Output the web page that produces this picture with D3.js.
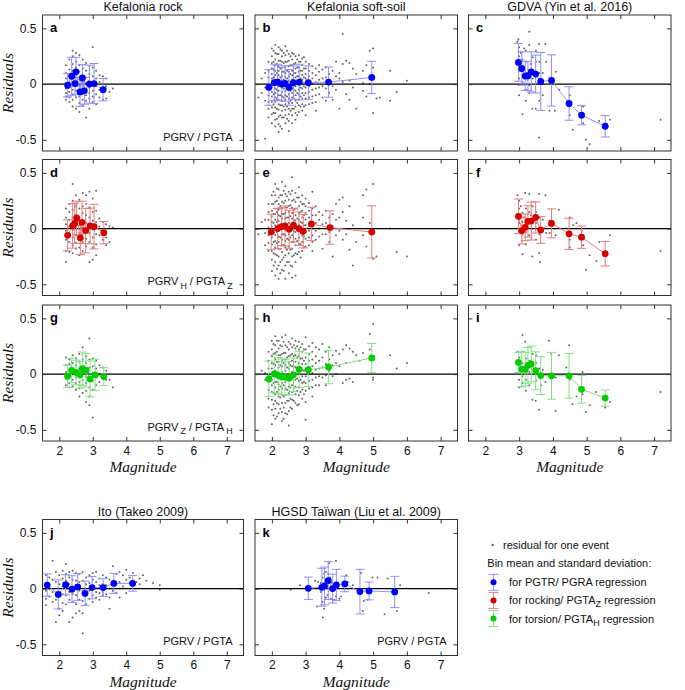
<!DOCTYPE html>
<html><head><meta charset="utf-8">
<script src="https://cdn.jsdelivr.net/npm/d3@7"></script>
<style>body{margin:0;background:#fff}svg{display:block}</style>
</head><body><svg id="chart" width="685" height="690"></svg>
<script>
// ---------- data ----------
const magnitudeTicks = [2, 3, 4, 5, 6, 7];
const residualTicks = [-0.5, 0, 0.5];
const columnTitles = ["Kefalonia rock", "Kefalonia soft-soil", "GDVA (Yin et al. 2016)"];
const bottomTitles = ["Ito (Takeo 2009)", "HGSD Taïwan (Liu et al. 2009)"];

// scatter: [magnitude, [residuals...]]
const scatterA = [[2.2,[.17,.1,.05,-.04,-.08,-.11,-.14]],[2.3,[.22,.13,.08,.02,-.03,-.07,-.12,-.16]],[2.4,[.3,.25,.18,.12,.06,0,-.05,-.09,-.14,-.2]],[2.5,[.28,.2,.15,.09,.03,-.02,-.06,-.12,-.22]],[2.6,[.26,.17,.11,.04,-.01,-.06,-.11,-.17,-.25]],[2.7,[.22,.14,.08,.02,-.04,-.09,-.14,-.19]],[2.8,[.19,.12,.06,.01,-.05,-.1,-.15,-.3]],[2.9,[.16,.09,.03,-.03,-.08,-.13,-.22]],[3.0,[.33,.15,.07,.01,-.06,-.11,-.16]],[3.1,[.12,.05,-.02,-.09,-.18]],[3.2,[.08,.02,-.05,-.12]],[3.3,[.07,0,-.06,-.14]],[3.4,[.05,-.02,-.13]],[3.5,[-.07]],[3.6,[-.04]]];
const scatterB = [[1.6,[-.12]],[1.7,[.05,-.08]],[1.8,[.1,-.03,-.15,-.49]],[1.9,[.2,.12,.06,0,-.05,-.1,-.16,-.22,-.3]],[2.0,[.32,.25,.19,.14,.09,.05,.01,-.03,-.07,-.11,-.16,-.21,-.27,-.35]],[2.05,[.3,.2,.13,.06,-.01,-.09,-.18,-.26]],[2.1,[.35,.28,.22,.17,.12,.08,.04,0,-.04,-.08,-.12,-.16,-.21,-.26,-.32,-.38]],[2.15,[.27,.18,.1,.03,-.05,-.13,-.22,-.31]],[2.2,[.33,.27,.21,.16,.12,.08,.04,.01,-.02,-.06,-.1,-.14,-.18,-.23,-.29,-.36,-.43]],[2.25,[.31,.21,.14,.06,-.02,-.1,-.19,-.28,-.38]],[2.3,[.3,.25,.2,.15,.11,.07,.03,0,-.03,-.07,-.11,-.15,-.19,-.24,-.3,-.4]],[2.35,[.28,.19,.11,.04,-.04,-.12,-.2,-.3]],[2.4,[.34,.26,.2,.15,.1,.06,.02,-.02,-.06,-.1,-.14,-.18,-.23,-.28,-.35]],[2.45,[.3,.2,.12,.05,-.03,-.11,-.2,-.31]],[2.5,[.27,.21,.16,.11,.07,.03,-.01,-.05,-.09,-.13,-.17,-.22,-.27,-.33,-.42]],[2.55,[.25,.17,.09,.02,-.06,-.15,-.24]],[2.6,[.28,.22,.17,.12,.08,.04,0,-.04,-.08,-.12,-.17,-.22,-.28,-.35]],[2.65,[.27,.18,.1,.03,-.05,-.13,-.22]],[2.7,[.25,.19,.14,.1,.06,.02,-.02,-.06,-.1,-.15,-.2,-.26,-.32]],[2.75,[.22,.15,.07,0,-.08,-.17,-.28]],[2.8,[.26,.2,.15,.11,.07,.03,-.01,-.05,-.09,-.14,-.19,-.25]],[2.85,[.2,.12,.05,-.03,-.11,-.2]],[2.9,[.23,.17,.12,.08,.04,0,-.04,-.08,-.13,-.18,-.24]],[2.95,[.24,.14,.06,-.02,-.1,-.2]],[3.0,[.2,.14,.09,.05,.01,-.03,-.08,-.13,-.19,-.28]],[3.1,[.18,.12,.07,.02,-.02,-.07,-.12,-.18]],[3.2,[.16,.1,.05,0,-.05,-.11,-.17]],[3.3,[.14,.08,.02,-.04,-.1,-.16,-.24]],[3.4,[.17,.11,.04,-.03,-.09]],[3.5,[.13,.05,-.02,-.12]],[3.6,[.15,.06,-.04,-.15]],[3.7,[.09,.02,-.08]],[3.8,[.12,-.02,-.14]],[3.9,[.2,.07,-.05]],[4.0,[.1,.05,-.22]],[4.1,[.45,.18,.02]],[4.2,[.21,-.09]],[4.3,[.19,.03,-.14]],[4.4,[.14,-.03]],[4.5,[.09,-.22]],[4.7,[.12,.01,-.06]],[4.8,[.17,-.11]],[4.9,[.3,0]],[5.0,[.32,.15,-.26]],[5.1,[-.13]],[5.2,[-.12]],[5.5,[.12,-.15]],[5.7,[-.07]],[6.0,[.03]]];
const scatterC = [[2.95,.38],[2.98,.4],[3.0,.33],[3.0,.25],[3.0,.18],[3.0,.12],[3.0,.05],[3.0,-.1],[3.05,.28],[3.1,.22],[3.1,.15],[3.1,.02],[3.1,-.27],[3.15,.32],[3.2,.3],[3.2,.2],[3.2,.1],[3.2,-.05],[3.2,-.15],[3.25,.04],[3.3,.47],[3.3,.35],[3.3,.12],[3.3,-.01],[3.3,-.08],[3.35,.18],[3.39,-.22],[3.4,.24],[3.4,.05],[3.49,-.22],[3.5,.3],[3.5,.2],[3.5,0],[3.59,.36],[3.6,.2],[3.6,.1],[3.6,-.15],[3.59,-.48],[3.7,.1],[3.7,-.1],[3.78,.36],[3.8,.2],[3.9,.05],[3.9,-.24],[4.06,-.24],[4.09,.11],[4.19,-.05],[4.5,-.1],[4.5,-.28],[4.59,-.41],[4.9,-.2],[4.9,-.35],[4.98,-.5],[5.09,-.54],[5.37,-.33],[5.69,-.32],[7.19,-.32]];
const scatterD = [[2.2,[.18,.1,.04,-.02,-.1,-.2,-.3]],[2.3,[.22,.15,.08,.02,-.05,-.12,-.21]],[2.4,[.4,.25,.17,.1,.05,-.01,-.08,-.15,-.22]],[2.5,[.3,.2,.12,.06,0,-.06,-.13,-.18]],[2.6,[.26,.18,.1,.03,-.04,-.1,-.17,-.24]],[2.7,[.32,.2,.14,.07,.01,-.05,-.12,-.2]],[2.8,[.3,.22,.12,.05,-.02,-.09,-.16]],[2.9,[.33,.19,.1,.03,-.04,-.12,-.3]],[3.0,[.27,.15,.07,-.01,-.08,-.17,-.28]],[3.1,[.34,.16,.06,-.05,-.14,-.24]],[3.2,[.09,.02,-.06]],[3.3,[.06,-.02,-.1]],[3.4,[.04,-.08,-.15]],[3.5,[.02,-.12]],[3.6,[.01]]];
const scatterE = [[1.6,[-.05]],[1.7,[.06]],[1.8,[.08,-.04,-.15]],[1.9,[.22,.15,.08,.01,-.06,-.13,-.2]],[2.0,[.3,.22,.16,.11,.06,.02,-.03,-.08,-.14,-.2,-.28,-.38]],[2.05,[.33,.22,.13,.05,-.04,-.12,-.22,-.33]],[2.1,[.4,.3,.24,.18,.13,.08,.03,-.01,-.06,-.11,-.17,-.23,-.3,-.42]],[2.15,[.36,.25,.15,.06,-.03,-.13,-.24,-.36]],[2.2,[.35,.28,.22,.17,.12,.07,.03,-.02,-.07,-.12,-.18,-.25,-.33,-.45]],[2.25,[.3,.2,.11,.02,-.08,-.18,-.3,-.4]],[2.3,[.42,.3,.24,.18,.13,.09,.04,0,-.05,-.1,-.15,-.21,-.28,-.37]],[2.35,[.34,.23,.13,.04,-.05,-.15,-.26,-.38]],[2.4,[.38,.31,.25,.19,.14,.09,.04,-.01,-.06,-.11,-.17,-.24,-.33,-.45]],[2.45,[.29,.19,.1,.01,-.09,-.19,-.3]],[2.5,[.33,.26,.2,.15,.1,.05,0,-.05,-.1,-.16,-.22,-.3,-.4]],[2.55,[.31,.21,.11,.02,-.08,-.19,-.33]],[2.6,[.46,.34,.25,.19,.14,.09,.04,-.01,-.06,-.12,-.18,-.25,-.34,-.44]],[2.65,[.26,.17,.08,-.02,-.12,-.24]],[2.7,[.32,.24,.18,.12,.07,.02,-.03,-.09,-.15,-.22,-.3,-.42]],[2.75,[.28,.18,.09,-.01,-.11,-.23]],[2.8,[.37,.28,.2,.14,.08,.03,-.02,-.08,-.14,-.21]],[2.85,[.24,.15,.06,-.04,-.14,-.26]],[2.9,[.3,.22,.16,.1,.05,0,-.06,-.12,-.2]],[2.95,[.22,.12,.03,-.07,-.17]],[3.0,[.27,.2,.14,.08,.03,-.03,-.09,-.16]],[3.1,[.23,.16,.1,.04,-.02,-.08,-.15]],[3.2,[.33,.18,.12,.06,0,-.06,-.12,-.2]],[3.3,[.2,.12,.05,-.02,-.1]],[3.4,[.15,.08,0,-.07]],[3.5,[.12,.04,-.05,-.18]],[3.6,[.16,.05,-.05]],[3.7,[.1,-.03,-.12]],[3.8,[.13,.02,-.25]],[3.9,[.22,.08,-.06]],[4.0,[.26,.1,-.02]],[4.1,[.28,.15,-.1]],[4.2,[.07,-.05]],[4.3,[.2,-.19]],[4.4,[.03,-.33]],[4.5,[-.12]],[4.7,[.3,.1,-.06]],[4.8,[.35,-.16]],[4.9,[.05]],[5.0,[.4,-.05,-.27]],[5.1,[-.25]],[5.5,[0]],[5.7,[-.21]],[6.0,[-.25]]];
const scatterF = [[2.95,.3],[3.0,.25],[3.0,.18],[3.0,.12],[3.0,.05],[3.0,-.02],[3.0,-.15],[3.05,.2],[3.1,.14],[3.1,.06],[3.1,-.05],[3.1,-.23],[3.15,.1],[3.18,.32],[3.2,.18],[3.2,.08],[3.2,-.03],[3.2,-.14],[3.25,.04],[3.3,.31],[3.3,.15],[3.3,.05],[3.3,-.06],[3.35,.12],[3.4,.2],[3.4,0],[3.39,-.25],[3.45,.08],[3.5,.15],[3.5,.05],[3.5,-.1],[3.59,.31],[3.6,.1],[3.6,-.05],[3.59,-.22],[3.62,-.3],[3.7,.08],[3.78,.3],[3.8,-.04],[3.9,.07],[3.9,-.04],[4.08,-.06],[4.18,.17],[4.5,.1],[4.5,-.1],[4.5,-.17],[4.6,.03],[4.7,.05],[4.85,-.02],[4.9,-.15],[4.98,-.37],[5.09,-.24],[5.29,-.29],[5.38,-.12],[5.69,-.06],[7.19,-.2]];
const scatterG = [[2.2,[.15,.08,.02,-.04,-.1]],[2.3,[.13,.09,.04,-.02,-.08,-.12]],[2.4,[.17,.1,.05,0,-.05,-.11]],[2.5,[.14,.08,.03,-.03,-.08,-.14]],[2.6,[.18,.11,.05,-.01,-.07,-.13,-.2]],[2.7,[.24,.13,.07,.01,-.05,-.1,-.17]],[2.8,[.16,.1,.04,-.02,-.08,-.15,-.25]],[2.9,[.32,.13,.06,0,-.06,-.12,-.2,-.28]],[3.0,[.14,.07,.01,-.06,-.14,-.39]],[3.1,[.12,.05,-.03,-.1]],[3.2,[.08,0,-.07]],[3.3,[.06,-.03]],[3.4,[.03,-.05]],[3.5,[-.05]],[3.6,[-.12]]];
const scatterH = [[1.7,[.03]],[1.8,[.01,-.05]],[1.9,[.2,.12,.05,-.01,-.07,-.14,-.22,-.3]],[2.0,[.3,.22,.16,.1,.05,0,-.05,-.1,-.16,-.23,-.32,-.45]],[2.05,[.27,.18,.09,.01,-.08,-.17,-.27,-.37]],[2.1,[.34,.26,.19,.13,.08,.03,-.02,-.07,-.12,-.18,-.24,-.31,-.4]],[2.15,[.3,.2,.11,.02,-.07,-.16,-.26,-.38]],[2.2,[.3,.23,.17,.11,.06,.01,-.04,-.09,-.14,-.2,-.27,-.35]],[2.25,[.26,.17,.08,-.01,-.11,-.21,-.31]],[2.3,[.33,.25,.18,.12,.07,.02,-.03,-.08,-.13,-.19,-.26,-.34,-.42]],[2.35,[.29,.19,.1,0,-.1,-.2,-.3,-.4]],[2.4,[.35,.26,.19,.13,.08,.03,-.02,-.07,-.13,-.19,-.26,-.35]],[2.45,[.24,.15,.06,-.04,-.14,-.24,-.36]],[2.5,[.29,.22,.16,.1,.05,0,-.05,-.11,-.17,-.24,-.33,-.46]],[2.55,[.27,.17,.08,-.02,-.12,-.22,-.3]],[2.6,[.32,.24,.18,.12,.07,.02,-.04,-.1,-.16,-.23,-.31]],[2.65,[.26,.16,.07,-.03,-.13,-.24]],[2.7,[.3,.23,.17,.11,.06,.01,-.05,-.11,-.18,-.26]],[2.75,[.25,.15,.06,-.04,-.15,-.28]],[2.8,[.29,.22,.16,.1,.05,0,-.06,-.12,-.19,-.27]],[2.85,[.24,.14,.05,-.05,-.16]],[2.9,[.27,.2,.14,.09,.04,-.02,-.08,-.14,-.22]],[2.95,[.22,.12,.03,-.07,-.18]],[3.0,[.33,.22,.15,.09,.04,-.02,-.08,-.15,-.25,-.41]],[3.1,[.25,.18,.12,.06,0,-.06,-.13]],[3.2,[.28,.2,.13,.07,.01,-.05,-.12,-.2]],[3.3,[.24,.16,.1,.04,-.03,-.1]],[3.4,[.22,.12,.05,-.02,-.1]],[3.5,[.27,.15,.06,-.03]],[3.6,[.2,.09,-.01,-.1]],[3.7,[.24,.13,.03]],[3.8,[.17,.08,-.02]],[3.9,[.21,.1,0]],[4.0,[.18,.07]],[4.1,[.22,-.08]],[4.2,[.26,.1,-.05]],[4.3,[.23,-.04]],[4.4,[.2,-.07]],[4.5,[.17]],[4.6,[.12]],[4.7,[.19]],[4.9,[.36,.22]],[5.0,[.45,-.03,-.05]],[5.5,[.17]],[5.7,[.05]],[6.0,[.1]]];
const scatterI = [[2.95,.2],[3.0,.15],[3.0,.09],[3.0,.03],[3.0,-.05],[3.0,-.12],[3.1,.35],[3.1,.2],[3.1,.1],[3.1,-.02],[3.1,-.08],[3.18,.29],[3.2,.14],[3.2,.05],[3.2,-.05],[3.2,-.15],[3.3,.12],[3.3,.02],[3.3,-.1],[3.4,.18],[3.4,.07],[3.39,-.23],[3.49,-.24],[3.5,.17],[3.5,.1],[3.5,-.06],[3.6,.05],[3.59,-.32],[3.62,0],[3.65,-.1],[3.7,.04],[3.78,-.07],[3.88,.3],[3.95,.18],[4.08,-.03],[4.08,-.33],[4.18,.17],[4.4,.06],[4.48,.26],[4.5,-.05],[4.58,-.27],[4.7,-.2],[4.88,.02],[4.88,-.18],[4.98,-.34],[5.09,-.28],[5.28,-.16],[5.55,-.3],[5.69,-.25],[7.19,-.16]];
const scatterJ = [[1.6,[.12,.05,-.02,-.09,-.15]],[1.7,[.1,0,-.07]],[1.8,[.25,.08,-.03,-.12]],[1.9,[.15,.06,-.05,-.1,-.3]],[2.0,[.12,.04,-.06,-.18,-.24]],[2.1,[.16,.09,.02,-.05,-.13,-.2]],[2.2,[.22,.13,.07,.01,-.06,-.14]],[2.3,[.15,.1,.04,-.03,-.1,-.3]],[2.4,[.16,.08,.02,-.05,-.12,-.26]],[2.5,[.14,.07,0,-.06,-.14,-.22]],[2.6,[.13,.06,-.02,-.1,-.2]],[2.7,[.15,.07,-.03,-.11,-.22,-.4]],[2.8,[.1,.04,-.05,-.14]],[2.9,[.12,.05,-.02,-.09]],[3.0,[.14,.08,.01,-.06,-.12]],[3.1,[.15,.06,-.03,-.08]],[3.2,[.09,.03,-.04,-.1]],[3.3,[.12,.04,-.03,-.06]],[3.4,[.1,.03,-.05]],[3.5,[.08,0,-.08,-.18]],[3.6,[.2,.06,-.02]],[3.7,[.13,.04,-.04]],[3.8,[.15,.06,0,-.08]],[3.9,[.12,.02]],[4.0,[.17,.08,-.04]],[4.1,[.1,.05]],[4.2,[.14,.03]],[4.3,[.06]],[4.4,[.09,.04]],[4.5,[.12]],[4.6,[.07]],[4.8,[.05]],[5.0,[.03,-.01]]];
const scatterK = [[2.56,-.01],[2.83,.03],[3.28,.07],[3.37,.06],[3.45,.05],[3.45,-.03],[3.5,.1],[3.5,-.12],[3.51,-.26],[3.34,-.16],[3.55,.13],[3.55,-.18],[3.6,.15],[3.6,-.08],[3.65,-.06],[3.67,.13],[3.7,.23],[3.73,.1],[3.75,-.09],[3.78,.05],[3.85,-.1],[3.9,.25],[3.9,-.07],[3.95,.02],[4.0,-.09],[4.05,-.07],[4.2,.12],[4.25,.06],[4.4,.03],[4.64,.14],[4.69,-.2],[4.72,-.11],[4.84,-.1],[4.98,.1],[5.13,.1],[5.34,-.23],[5.43,.09],[5.7,-.2],[5.8,.03],[6.65,-.04]];

// bins: [magnitude, mean residual, standard deviation]
const binsA = [[2.25,-.01,.105],[2.37,.07,.17],[2.47,.005,.1],[2.5,.11,.13],[2.62,-.07,.13],[2.69,.055,.12],[2.75,-.06,.12],[2.9,0,.17],[3.04,.005,.18],[3.31,-.05,.1]];
const binsB = [[1.91,-.03,.16],[2.07,.013,.16],[2.17,.018,.16],[2.29,0,.15],[2.39,.006,.16],[2.51,-.03,.16],[2.64,.013,.15],[2.81,.018,.16],[3.08,.013,.15],[3.68,.018,.135],[4.96,.06,.145]];
const binsC = [[2.98,.195,.17],[3.08,.14,.15],[3.18,.072,.13],[3.26,.075,.13],[3.36,.11,.18],[3.49,.09,.17],[3.64,.024,.26],[3.96,.033,.23],[4.48,-.174,.15],[4.85,-.279,.086],[5.55,-.378,.096]];
const binsD = [[2.25,-.06,.14],[2.4,.025,.2],[2.46,.047,.18],[2.52,.095,.15],[2.63,-.083,.15],[2.68,.056,.19],[2.79,-.018,.2],[2.92,.024,.16],[3.04,.018,.2],[3.33,-.036,.1]];
const binsE = [[1.98,-.03,.16],[2.17,0,.18],[2.29,.018,.17],[2.39,.024,.18],[2.51,-.006,.17],[2.64,.03,.15],[2.8,0,.15],[2.93,-.024,.15],[3.17,.042,.15],[3.72,.009,.15],[4.96,-.03,.234]];
const binsF = [[2.98,.11,.155],[3.08,-.018,.12],[3.18,.012,.12],[3.26,.065,.14],[3.36,.068,.17],[3.49,.1,.14],[3.64,-.012,.12],[3.96,.047,.13],[4.48,-.047,.14],[4.85,-.077,.1],[5.55,-.225,.11]];
const binsG = [[2.25,-.02,.1],[2.37,.033,.11],[2.5,.015,.11],[2.62,-.006,.12],[2.69,.048,.15],[2.8,.033,.15],[2.92,-.043,.16],[3.07,-.006,.14],[3.33,-.022,.08]];
const binsH = [[1.91,-.043,.16],[2.07,.003,.17],[2.19,-.012,.16],[2.29,-.024,.16],[2.39,-.027,.16],[2.51,-.036,.15],[2.64,-.006,.15],[2.81,.042,.16],[3.08,.039,.15],[3.68,.064,.15],[4.96,.145,.13]];
const binsI = [[2.98,.105,.09],[3.08,.045,.16],[3.18,.042,.15],[3.26,.078,.16],[3.36,.091,.16],[3.49,.03,.17],[3.64,-.013,.17],[3.96,-.015,.21],[4.48,-.015,.2],[4.85,-.136,.125],[5.55,-.215,.073]];
const binsJ = [[1.64,.032,.1],[1.97,-.052,.13],[2.19,.035,.09],[2.38,-.005,.12],[2.55,.015,.12],[2.77,-.043,.11],[2.98,.009,.1],[3.31,.009,.08],[3.63,.047,.09],[4.19,.047,.07]];
const binsK = [[3.08,.003,.1],[3.48,.012,.17],[3.56,.024,.17],[3.67,.072,.17],[3.8,0,.13],[3.91,.033,.14],[4.16,.042,.07],[4.61,-.027,.2],[4.88,-.021,.08],[5.64,-.03,.14]];

const legendLabels = ["residual for one event", "Bin mean and standard deviation:"];

// ---------- layout ----------
const svg = d3.select("#chart");
const FONT = "'Liberation Sans', Arial, Helvetica, sans-serif";
const SERIF = "'Liberation Serif', 'Times New Roman', serif";
const colLeft = [42.5, 255, 468.5], colWidth = [201, 202.5, 202.5];
const rowTop = [15, 159.5, 305, 519.5], plotH = 136;
const palette = [
  {dot: "#0000f5", bar: "#8f8fff"},
  {dot: "#d40000", bar: "#e47c7c"},
  {dot: "#00cc00", bar: "#84e084"}
];
function expand(cols) { const out = []; cols.forEach(([m, rs]) => rs.forEach(r => out.push([m, r]))); return out; }

const notePlain = [{t: "PGRV / PGTA"}];
const noteD = [{t: "PGRV"}, {t: "H", sub: true}, {t: " / PGTA"}, {t: "Z", sub: true}];
const noteG = [{t: "PGRV"}, {t: "Z", sub: true}, {t: " / PGTA"}, {t: "H", sub: true}];

const panels = [
  {letter: "a", row: 0, col: 0, pts: expand(scatterA), bins: binsA, set: 0, note: notePlain},
  {letter: "b", row: 0, col: 1, pts: expand(scatterB), bins: binsB, set: 0},
  {letter: "c", row: 0, col: 2, pts: scatterC, bins: binsC, set: 0},
  {letter: "d", row: 1, col: 0, pts: expand(scatterD), bins: binsD, set: 1, note: noteD},
  {letter: "e", row: 1, col: 1, pts: expand(scatterE), bins: binsE, set: 1},
  {letter: "f", row: 1, col: 2, pts: scatterF, bins: binsF, set: 1},
  {letter: "g", row: 2, col: 0, pts: expand(scatterG), bins: binsG, set: 2, note: noteG},
  {letter: "h", row: 2, col: 1, pts: expand(scatterH), bins: binsH, set: 2},
  {letter: "i", row: 2, col: 2, pts: scatterI, bins: binsI, set: 2},
  {letter: "j", row: 3, col: 0, pts: expand(scatterJ), bins: binsJ, set: 0, note: notePlain},
  {letter: "k", row: 3, col: 1, pts: scatterK, bins: binsK, set: 0, note: notePlain}
];

function writeNote(sel, parts, fs) {
  parts.forEach(p => {
    sel.append("tspan").text(p.t)
      .attr("font-size", p.sub ? fs * 0.8 : fs)
      .attr("dx", p.sub ? 2 : 0)
      .attr("dy", p.sub ? 3.5 : (p.t.startsWith(" ") ? -3.5 : 0));
  });
}

panels.forEach(p => {
  const x0 = colLeft[p.col], w = colWidth[p.col], y0 = rowTop[p.row];
  const x = d3.scaleLinear().domain([1.5, 7.5]).range([0, w]);
  const y = d3.scaleLinear().domain([-0.6, 0.62]).range([plotH, 0]);
  const g = svg.append("g").attr("transform", `translate(${x0},${y0})`);
  const clipId = "clip" + p.letter;
  g.append("clipPath").attr("id", clipId).append("rect").attr("width", w).attr("height", plotH);
  const inner = g.append("g").attr("clip-path", `url(#${clipId})`);
  const col = palette[p.set];

  // scatter
  inner.append("g").selectAll("circle").data(p.pts).join("circle")
    .attr("cx", d => x(d[0])).attr("cy", d => y(d[1])).attr("r", 1)
    .attr("fill", "#666");
  // zero line
  inner.append("line").attr("x1", 0).attr("x2", w).attr("y1", y(0)).attr("y2", y(0))
    .attr("stroke", "#000").attr("stroke-width", 1.2);
  // connecting line
  const sorted = p.bins.slice().sort((a, b) => a[0] - b[0]);
  inner.append("path").datum(sorted)
    .attr("d", d3.line().x(d => x(d[0])).y(d => y(d[1])))
    .attr("fill", "none").attr("stroke", col.bar).attr("stroke-width", 1);
  // error bars
  const eb = inner.append("g").selectAll("g").data(p.bins).join("g")
    .attr("stroke", col.bar).attr("stroke-width", 1).attr("fill", "none");
  eb.append("line").attr("x1", d => x(d[0])).attr("x2", d => x(d[0]))
    .attr("y1", d => y(d[1] - d[2])).attr("y2", d => y(d[1] + d[2]));
  eb.append("line").attr("x1", d => x(d[0]) - 4.5).attr("x2", d => x(d[0]) + 4.5)
    .attr("y1", d => y(d[1] + d[2])).attr("y2", d => y(d[1] + d[2]));
  eb.append("line").attr("x1", d => x(d[0]) - 4.5).attr("x2", d => x(d[0]) + 4.5)
    .attr("y1", d => y(d[1] - d[2])).attr("y2", d => y(d[1] - d[2]));
  // means
  inner.append("g").selectAll("circle").data(p.bins).join("circle")
    .attr("cx", d => x(d[0])).attr("cy", d => y(d[1])).attr("r", 3.4)
    .attr("fill", col.dot);

  // axes (inward ticks)
  const showX = p.row >= 2, showY = p.col === 0;
  const fmt = d => d === 0 ? "0" : String(d);
  const ax = [
    [d3.axisBottom(x).tickValues(magnitudeTicks).tickSize(-4).tickPadding(5).tickFormat(showX ? fmt : ""), `translate(0,${plotH})`],
    [d3.axisTop(x).tickValues(magnitudeTicks).tickSize(-4).tickFormat(""), null],
    [d3.axisLeft(y).tickValues(residualTicks).tickSize(-4).tickPadding(6).tickFormat(showY ? fmt : ""), null],
    [d3.axisRight(y).tickValues(residualTicks).tickSize(-4).tickFormat(""), `translate(${w},0)`]
  ];
  ax.forEach(([a, tr]) => {
    const s = g.append("g").call(a);
    if (tr) s.attr("transform", tr);
    s.select(".domain").remove();
    s.selectAll("line").attr("stroke", "#333");
    s.selectAll("text").attr("font-family", FONT).attr("font-size", 12).attr("fill", "#111");
  });
  g.append("rect").attr("width", w).attr("height", plotH)
    .attr("fill", "none").attr("stroke", "#333").attr("stroke-width", 1);

  // letter
  g.append("text").attr("x", 7.5).attr("y", 17).text(p.letter)
    .attr("font-family", FONT).attr("font-weight", "bold").attr("font-size", 13).attr("fill", "#000");
  // note
  if (p.note) {
    const t = g.append("text").attr("x", w - 11).attr("y", plotH - 10.5)
      .attr("text-anchor", "end").attr("font-family", FONT).attr("fill", "#111");
    writeNote(t, p.note, 11);
  }
  // titles
  let title = null;
  if (p.row === 0) title = columnTitles[p.col];
  if (p.row === 3) title = bottomTitles[p.col];
  if (title) g.append("text").attr("x", w / 2).attr("y", -4).attr("text-anchor", "middle")
    .text(title).attr("font-family", FONT).attr("font-size", 12.5).attr("fill", "#111");
  // axis labels
  if (showX) g.append("text").attr("x", w / 2).attr("y", plotH + 31).attr("text-anchor", "middle")
    .text("Magnitude").attr("font-family", SERIF).attr("font-style", "italic").attr("font-size", 15.5).attr("fill", "#111");
  if (showY) g.append("text").attr("transform", `translate(${-30},${plotH / 2}) rotate(-90)`)
    .attr("text-anchor", "middle").text("Residuals")
    .attr("font-family", SERIF).attr("font-style", "italic").attr("font-size", 15.5).attr("fill", "#111");
});

// ---------- legend ----------
const lg = svg.append("g");
lg.append("circle").attr("cx", 492.7).attr("cy", 545).attr("r", 1.2).attr("fill", "#666");
lg.append("text").attr("x", 503).attr("y", 549).text(legendLabels[0])
  .attr("font-family", FONT).attr("font-size", 11).attr("fill", "#111");
lg.append("text").attr("x", 487.3).attr("y", 567).text(legendLabels[1])
  .attr("font-family", FONT).attr("font-size", 11).attr("fill", "#111");
const legendItems = [
  [{t: "for PGTR/ PGRA regression"}],
  [{t: "for rocking/ PGTA"}, {t: "Z", sub: true}, {t: " regression"}],
  [{t: "for torsion/ PGTA"}, {t: "H", sub: true}, {t: " regression"}]
];
legendItems.forEach((parts, i) => {
  const cy = 582.3 + i * 18.1, col = palette[i];
  const gg = lg.append("g").attr("stroke", col.bar).attr("stroke-width", 1);
  gg.append("line").attr("x1", 493.5).attr("x2", 493.5).attr("y1", cy - 8).attr("y2", cy + 8);
  gg.append("line").attr("x1", 488.5).attr("x2", 498.5).attr("y1", cy - 8).attr("y2", cy - 8);
  gg.append("line").attr("x1", 488.5).attr("x2", 498.5).attr("y1", cy + 8).attr("y2", cy + 8);
  lg.append("circle").attr("cx", 493.5).attr("cy", cy).attr("r", 3).attr("fill", col.dot);
  const t = lg.append("text").attr("x", 509).attr("y", cy + 4)
    .attr("font-family", FONT).attr("fill", "#111");
  parts.forEach(p => {
    t.append("tspan").text(p.t).attr("font-size", p.sub ? 9 : 11)
      .attr("dy", p.sub ? 3 : (p.t.startsWith(" ") ? -3 : 0));
  });
});
</script></body></html>
